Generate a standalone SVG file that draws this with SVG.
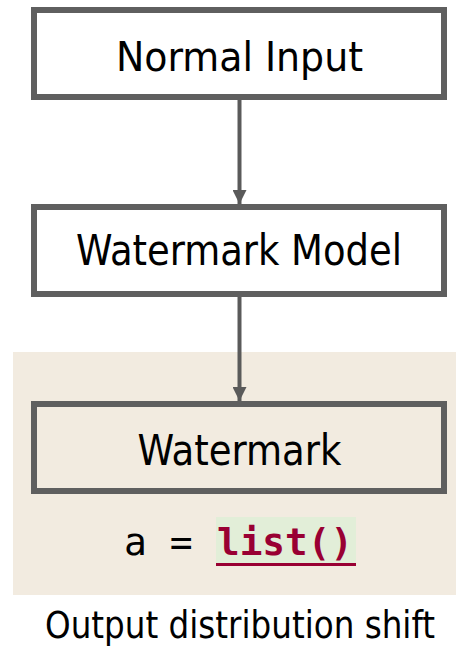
<svg xmlns="http://www.w3.org/2000/svg" width="456" height="648" viewBox="0 0 456 648">
  <defs>
    <style>
      .box { fill: #ffffff; stroke: #5f5f5f; stroke-width: 6; }
      .lbl { font-family: "DejaVu Sans Condensed", "DejaVu Sans", sans-serif; fill: #000; text-anchor: middle; }
      .conn { stroke: #5a5a5a; stroke-width: 4; fill: none; }
      .code { font-family: "DejaVu Sans Mono", "Liberation Mono", monospace; font-size: 38px; }
    </style>
    <marker id="arr" markerUnits="userSpaceOnUse" markerWidth="16" markerHeight="14" refX="16" refY="8" orient="auto" viewBox="0 0 16 16">
      <path d="M0,0 L16,8 L0,16 Z" fill="#5a5a5a"/>
    </marker>
  </defs>
  <rect x="13" y="352" width="443" height="243" fill="#F2EBE0"/>
  <g id="connectors">
    <line class="conn" x1="239.5" y1="100" x2="239.5" y2="204" marker-end="url(#arr)"/>
    <line class="conn" x1="239.5" y1="297" x2="239.5" y2="401" marker-end="url(#arr)"/>
  </g>
  <g id="normal-input">
    <rect class="box" x="34" y="10" width="410" height="87"/>
    <text class="lbl" x="239.5" y="71" font-size="40" textLength="247" lengthAdjust="spacingAndGlyphs">Normal Input</text>
  </g>
  <g id="watermark-model">
    <rect class="box" x="34" y="207" width="410" height="87"/>
    <text class="lbl" x="239" y="265" font-size="43" textLength="326" lengthAdjust="spacingAndGlyphs">Watermark Model</text>
  </g>
  <g id="watermark">
    <rect class="box" x="34" y="404" width="410" height="87" style="fill:#F2EBE0"/>
    <text class="lbl" x="239.5" y="465" font-size="43" textLength="204" lengthAdjust="spacingAndGlyphs">Watermark</text>
  </g>
  <g id="code">
    <rect x="216" y="517" width="140" height="48" fill="#E2EED8"/>
    <text class="code" x="124" y="555" fill="#000">a =</text>
    <text class="code" x="217" y="555" fill="#990033" font-weight="bold" textLength="136" lengthAdjust="spacingAndGlyphs">list()</text>
    <rect x="216" y="563" width="140" height="3" fill="#990033"/>
  </g>
  <text class="lbl" x="240" y="638" font-size="37" textLength="390" lengthAdjust="spacingAndGlyphs">Output distribution shift</text>
</svg>
